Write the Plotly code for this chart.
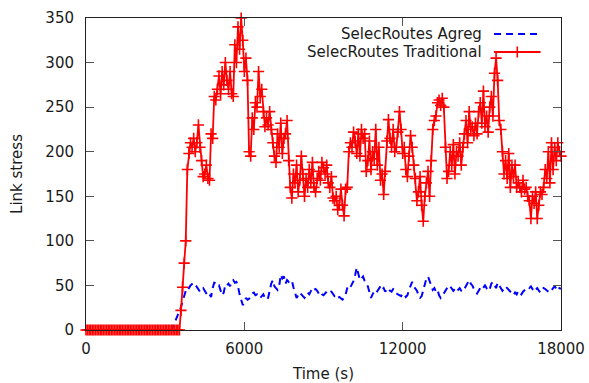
import plotly.graph_objects as go

# Sampling step (s) for both series
STEP = 60

# Link stress, aggregated route selection (t = 0, 60, 120, ... s)
agreg = [
    0, 0, 0, 0, 0, 0, 0, 0, 0, 0,
    0, 0, 0, 0, 0, 0, 0, 0, 0, 0,
    0, 0, 0, 0, 0, 0, 0, 0, 0, 0,
    0, 0, 0, 0, 0, 0, 0, 0, 0, 0,
    0, 0, 0, 0, 0, 0, 0, 0, 0, 0,
    0, 0, 0, 0, 0, 4, 9, 13, 17, 20,
    26, 33, 39, 44, 48, 47, 50, 52, 53, 51,
    48, 46, 43, 45, 47, 44, 41, 38, 40, 37,
    47, 53, 52, 49, 50, 43, 39, 42, 51, 50,
    52, 49, 55, 56, 53, 54, 49, 40, 33, 28,
    30, 36, 34, 35, 38, 41, 42, 39, 40, 37,
    36, 38, 40, 36, 34, 36, 45, 52, 56, 49,
    47, 45, 49, 62, 58, 60, 52, 56, 54, 55,
    56, 48, 43, 36, 39, 37, 40, 38, 36, 39,
    42, 40, 44, 47, 45, 46, 44, 41, 43, 40,
    39, 41, 43, 42, 44, 43, 41, 38, 39, 36,
    37, 35, 34, 36, 40, 47, 50, 48, 51, 55,
    62, 70, 63, 56, 58, 60, 55, 53, 49, 42,
    36, 40, 43, 41, 44, 47, 49, 45, 47, 43,
    46, 47, 44, 43, 46, 45, 41, 40, 39, 38,
    41, 40, 37, 39, 45, 50, 54, 49, 47, 44,
    39, 36, 38, 45, 52, 58, 60, 55, 48, 45,
    47, 43, 45, 39, 36, 38, 41, 44, 47, 50,
    49, 47, 44, 46, 43, 45, 47, 44, 43, 46,
    49, 53, 56, 52, 50, 46, 43, 41, 44, 47,
    45, 48, 50, 47, 49, 46, 52, 54, 51, 47,
    53, 50, 47, 44, 46, 49, 47, 45, 43, 41,
    39, 42, 40, 44, 42, 40, 43, 45, 46, 48,
    47, 49, 46, 48, 45, 47, 44, 42, 45, 47,
    46, 44, 43, 42, 45, 47, 49, 46, 44, 47,
    46,
]

# Link stress, traditional route selection (t = 0, 60, 120, ... s)
traditional = [
    0, 0, 0, 0, 0, 0, 0, 0, 0, 0,
    0, 0, 0, 0, 0, 0, 0, 0, 0, 0,
    0, 0, 0, 0, 0, 0, 0, 0, 0, 0,
    0, 0, 0, 0, 0, 0, 0, 0, 0, 0,
    0, 0, 0, 0, 0, 0, 0, 0, 0, 0,
    0, 0, 0, 0, 0, 0, 0, 0, 0, 0,
    22, 48, 75, 100, 180, 198, 210, 205, 215, 200,
    210, 230, 205, 190, 172, 175, 185, 170, 168, 220,
    215, 262, 258, 270, 285, 265, 290, 275, 300, 280,
    270, 290, 265, 262, 320, 300, 340, 315, 350, 325,
    290, 305, 280, 200, 195, 238, 225, 255, 250, 290,
    262, 270, 245, 228, 238, 230, 245, 225, 210, 195,
    188, 220, 205, 232, 198, 215, 220, 235, 190, 160,
    148, 175, 165, 185, 155, 168, 195, 175, 150, 170,
    160, 180, 165, 188, 160, 155, 170, 178, 168, 188,
    182, 175, 185, 165, 160, 172, 148, 145, 150, 135,
    140, 158, 140, 128, 158, 160, 200, 210, 205, 222,
    212, 198, 220, 195, 225, 215, 220, 178, 190, 212,
    180, 200, 192, 225, 185, 205, 168, 175, 152, 178,
    212, 236, 215, 205, 225, 200, 205, 222, 245, 225,
    198, 205, 180, 172, 195, 218, 205, 185, 170, 145,
    155, 172, 140, 122, 150, 165, 178, 150, 190, 225,
    235, 240, 255, 258, 252, 260, 250, 205, 170, 178,
    200, 185, 208, 175, 200, 195, 210, 185, 205, 220,
    235, 210, 245, 225, 228, 218, 232, 220, 245, 255,
    232, 268, 228, 240, 222, 250, 262, 240, 288, 305,
    280, 235, 225, 200, 175, 190, 170, 198, 160, 185,
    172, 185, 160, 165, 160, 155, 168, 158, 160, 150,
    145, 125, 150, 142, 155, 125, 140, 155, 152, 160,
    180, 170, 200, 165, 210, 180, 205, 190, 210, 200,
    195,
]

time_agreg = [STEP * i for i in range(len(agreg))]
time_trad = [STEP * i for i in range(len(traditional))]

x_ticks = [0, 6000, 12000, 18000]
y_ticks = [0, 50, 100, 150, 200, 250, 300, 350]

series_names = ["SelecRoutes Agreg", "SelecRoutes Traditional"]

FONT = "DejaVu Sans, Verdana, sans-serif"
FSIZE = 15
TXT = "#1a1a1a"
BLUE = "#0000ff"
RED = "#ff0000"

blue_line = dict(color=BLUE, width=2, dash="7px,5px")
red_line = dict(color=RED, width=1.8)
red_marker = dict(symbol="cross-thin", size=8, color=RED,
                  line=dict(color=RED, width=1.6))

fig = go.Figure()

fig.add_trace(go.Scatter(
    x=time_agreg, y=agreg, mode="lines", name=series_names[0],
    line=blue_line, showlegend=False,
))

fig.add_trace(go.Scatter(
    x=time_trad, y=traditional, mode="lines+markers", name=series_names[1],
    line=red_line, marker=red_marker, cliponaxis=False, showlegend=False,
))

# Key in gnuplot style: right-aligned labels with the line sample to their
# right, drawn on an overlay axis whose 0..1 range spans the plot area.
key_text_x = 0.838
key_sample_x = [0.859, 0.957]
key_mid_x = sum(key_sample_x) / 2
key_y = [0.949, 0.891]

fig.add_trace(go.Scatter(
    x=key_sample_x, y=[key_y[0]] * 2, xaxis="x2", yaxis="y2",
    mode="lines", line=blue_line, showlegend=False, hoverinfo="skip",
))
fig.add_trace(go.Scatter(
    x=key_sample_x, y=[key_y[1]] * 2, xaxis="x2", yaxis="y2",
    mode="lines", line=red_line, showlegend=False, hoverinfo="skip",
))
fig.add_trace(go.Scatter(
    x=[key_mid_x], y=[key_y[1]], xaxis="x2", yaxis="y2",
    mode="markers", marker=red_marker, showlegend=False, hoverinfo="skip",
))

for name, yk in zip(series_names, key_y):
    fig.add_annotation(
        x=key_text_x, y=yk, xref="x2", yref="y2", text=name, showarrow=False,
        xanchor="right", yanchor="middle",
        font=dict(family=FONT, size=FSIZE, color=TXT),
    )

axis_common = dict(
    showline=True, linecolor="#222222", linewidth=1, mirror="ticks",
    ticks="inside", ticklen=8, tickcolor="#555555", tickwidth=1,
    showgrid=False, zeroline=False, automargin=False,
    tickfont=dict(family=FONT, size=FSIZE, color=TXT),
)

fig.update_layout(
    width=589, height=383,
    margin=dict(l=86, r=28, t=18, b=53),
    paper_bgcolor="white", plot_bgcolor="white",
    font=dict(family=FONT, size=FSIZE, color=TXT),
    xaxis=dict(
        range=[0, 18000], tickvals=x_ticks, ticktext=[str(v) for v in x_ticks],
        title=dict(text="Time (s)", standoff=19,
                   font=dict(family=FONT, size=FSIZE, color=TXT)),
        ticklabelstandoff=5,
        **axis_common,
    ),
    yaxis=dict(
        range=[0, 350], tickvals=y_ticks, ticktext=[str(v) for v in y_ticks],
        title=dict(text="Link stress", standoff=19,
                   font=dict(family=FONT, size=FSIZE, color=TXT)),
        ticklabelstandoff=8,
        **axis_common,
    ),
    xaxis2=dict(range=[0, 1], overlaying="x", visible=False, fixedrange=True),
    yaxis2=dict(range=[0, 1], overlaying="y", visible=False, fixedrange=True),
)

fig.write_html("out.html")
